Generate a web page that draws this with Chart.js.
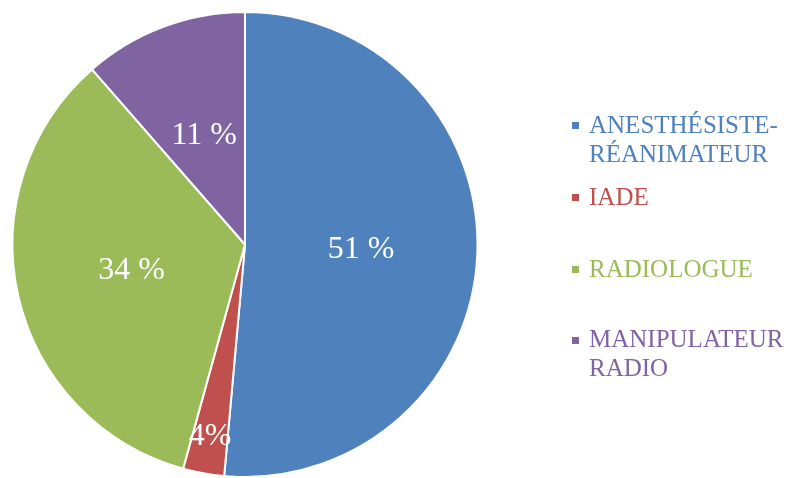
<!DOCTYPE html>
<html>
<head>
<meta charset="utf-8">
<script src="https://cdn.jsdelivr.net/npm/chart.js@4/dist/chart.umd.min.js"></script>
<style>
  html, body { margin: 0; padding: 0; background: #fff; }
  #wrap { position: relative; width: 793px; height: 478px; }
  #pieChart { position: absolute; left: 0; top: 0; }
  .leg { position: absolute; left: 589px; font-family: "Liberation Serif", "Times New Roman", serif;
         font-size: 25px; line-height: 29px; white-space: nowrap; }
  .sq { position: absolute; left: 572px; width: 7px; height: 7px; }
</style>
</head>
<body>
<div id="wrap">
  <canvas id="pieChart" width="793" height="478"></canvas>
  <div id="legend"></div>
</div>
<script>
// effectifs par profession (n = 35)
const categories = ['ANESTHÉSISTE-RÉANIMATEUR', 'IADE', 'RADIOLOGUE', 'MANIPULATEUR RADIO']
const legendLines = [['ANESTHÉSISTE-', 'RÉANIMATEUR'], ['IADE'], ['RADIOLOGUE'], ['MANIPULATEUR', 'RADIO']]
const counts = [18, 1, 12, 4]
const pctLabels = ['51 %', '4%', '34 %', '11 %']
const colors = ['#4F81BD', '#C0504D', '#9BBB59', '#8064A2']

// placement des étiquettes (fraction du rayon)
const labelRadius = [0.5, 0.84, 0.5, 0.5]

const pctPlugin = {
    id: 'pctLabels',
    afterDatasetsDraw(chart) {
        const ctx = chart.ctx
        const meta = chart.getDatasetMeta(0)
        ctx.save()
        ctx.fillStyle = '#ffffff'
        ctx.font = '32px "Liberation Serif", "Times New Roman", serif'
        ctx.textAlign = 'center'
        ctx.textBaseline = 'middle'
        meta.data.forEach(function(arc, i) {
            const p = arc.getProps(['x', 'y', 'startAngle', 'endAngle', 'outerRadius'], true)
            const mid = (p.startAngle + p.endAngle) / 2
            const r = p.outerRadius * labelRadius[i]
            ctx.fillText(pctLabels[i], p.x + Math.cos(mid) * r, p.y + Math.sin(mid) * r)
        })
        ctx.restore()
    }
}

const data = {
    labels: categories,
    datasets: [{
        data: counts,
        backgroundColor: colors,
        borderColor: '#ffffff',
        borderWidth: 2
    }]
}

const config = {
    type: 'pie',
    data,
    options: {
        responsive: false,
        animation: false,
        layout: {
            padding: { top: 11, bottom: -1, left: 11, right: 314 }
        },
        plugins: {
            legend: { display: false },
            tooltip: { enabled: false }
        }
    },
    plugins: [pctPlugin]
}

const myChart = new Chart(document.getElementById('pieChart'), config)

// légende à droite
const legendTops = [110, 182, 254, 324]
const squareTops = [122, 194, 266, 337]
let legendBox = document.getElementById('legend')
legendLines.forEach(function(lines, i) {
    let sq = document.createElement('div')
    sq.className = 'sq'
    sq.style.top = squareTops[i] + 'px'
    sq.style.background = colors[i]
    legendBox.appendChild(sq)

    let txt = document.createElement('div')
    txt.className = 'leg'
    txt.style.top = legendTops[i] + 'px'
    txt.style.color = colors[i]
    txt.innerHTML = lines.join('<br>')
    legendBox.appendChild(txt)
})
</script>
</body>
</html>
